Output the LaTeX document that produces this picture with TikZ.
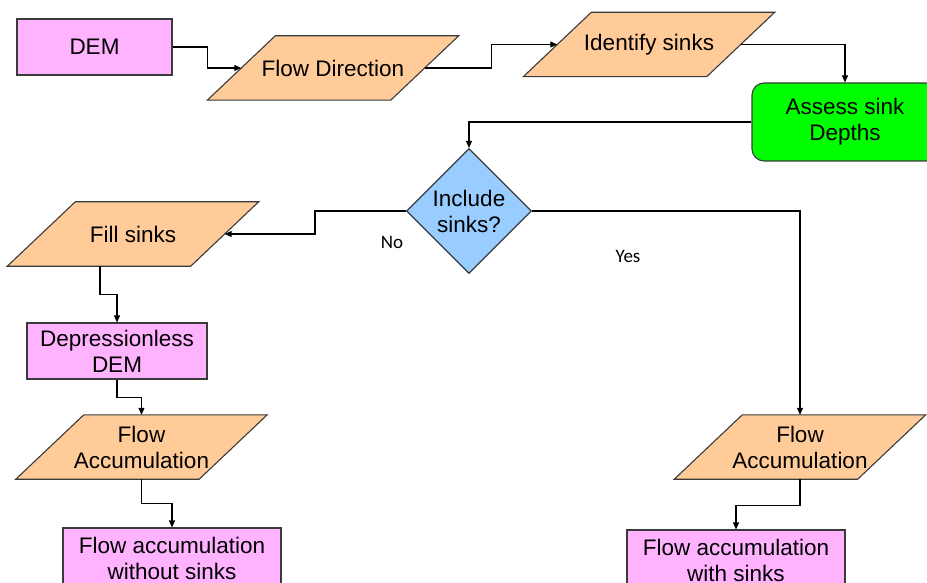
\documentclass[tikz,border=0pt]{standalone}
\usepackage{fontspec}
\setmainfont{Liberation Sans}
\newfontfamily\notefont{Carlito}
\usetikzlibrary{shapes.geometric,arrows.meta,backgrounds}

\definecolor{datapink}{HTML}{FFB3FF}
\definecolor{procpeach}{HTML}{FFCC99}
\definecolor{checkgreen}{HTML}{00FF00}
\definecolor{askblue}{HTML}{99CCFF}
\definecolor{edgegray}{HTML}{3A3A3A}

\tikzset{
  base/.style={font=\fontsize{22.5}{26}\selectfont, align=center, inner sep=0pt},
  databox/.style={base, rectangle, draw=edgegray, fill=datapink, line width=1.1pt},
  procbody/.style={base, rectangle, minimum width=183pt, minimum height=64pt},
  procfill/.style={draw=edgegray, fill=procpeach, line width=1.1pt},
  checkbox/.style={base, rectangle, rounded corners=12pt, draw=edgegray, fill=checkgreen, line width=1.1pt},
  askbox/.style={base, diamond, aspect=1, draw=edgegray, fill=askblue, line width=1.1pt,
    minimum width=125pt, minimum height=125pt},
  link/.style={line width=1.1pt, -{Triangle[length=7pt,width=6pt]}},
  note/.style={font=\notefont\fontsize{19}{22}\selectfont, inner sep=0pt}
}

% slanted process outline drawn behind a process node
\newcommand\slantbox[1]{%
  \filldraw[procfill] ([xshift=34pt]#1.north west) -- ([xshift=34pt]#1.north east)
    -- ([xshift=-34pt]#1.south east) -- ([xshift=-34pt]#1.south west) -- cycle;}

\begin{document}
\begin{tikzpicture}[x=1pt,y=-1pt]
  \clip (0,0) rectangle (927,583);

  % data and processing steps
  \node[databox, minimum width=155pt, minimum height=56pt] (dem) at (94.5,47) {DEM};
  \node[procbody] (fdir) at (333,68) {Flow Direction};
  \node[procbody] (idsink) at (649,44.5) {Identify sinks};
  \node[checkbox, minimum width=186pt, minimum height=78pt] (assess) at (845,122) {Assess sink\\Depths};
  \node[askbox] (dec) at (469,211) {Include\\sinks?};
  \node[procbody] (fill) at (133,234) {Fill sinks};
  \node[databox, minimum width=180pt, minimum height=56pt] (depdem) at (117,351) {Depressionless\\DEM};
  \node[procbody] (facl) at (141.5,447) {Flow\\Accumulation};
  \node[databox, minimum width=218pt, minimum height=60pt] (outl) at (172,558) {Flow accumulation\\without sinks};
  \node[procbody] (facr) at (800,447) {Flow\\Accumulation};
  \node[databox, minimum width=218pt, minimum height=60pt] (outr) at (736,560) {Flow accumulation\\with sinks};

  \begin{scope}[on background layer]
    \slantbox{fdir}
    \slantbox{idsink}
    \slantbox{fill}
    \slantbox{facl}
    \slantbox{facr}
  \end{scope}

  % connectors
  \draw[link] (dem.east) -- ++(35,0) |- (fdir.west);
  \draw[link] (fdir.east) -- ++(66.5,0) |- (idsink.west);
  \draw[link] (idsink.east) -| (assess.north);
  \draw[link] (assess.west) -| (dec.north);
  \draw[link] (dec.west) -- ++(-91,0) |- (fill.east);
  \draw[link] (dec.east) -| (facr.north);
  \draw[link] ([xshift=-33pt]fill.south) -- ++(0,28) -| (depdem.north);
  \draw[link] (depdem.south) -- ++(0,18) -| (facl.north);
  \draw[link] (facl.south) -- ++(0,24) -| (outl.north);
  \draw[link] (facr.south) -- ++(0,26) -| (outr.north);

  % branch labels
  \node[note] (nolabel) at (392,242) {No};
  \node[note] (yeslabel) at (628,256) {Yes};
\end{tikzpicture}
\end{document}
